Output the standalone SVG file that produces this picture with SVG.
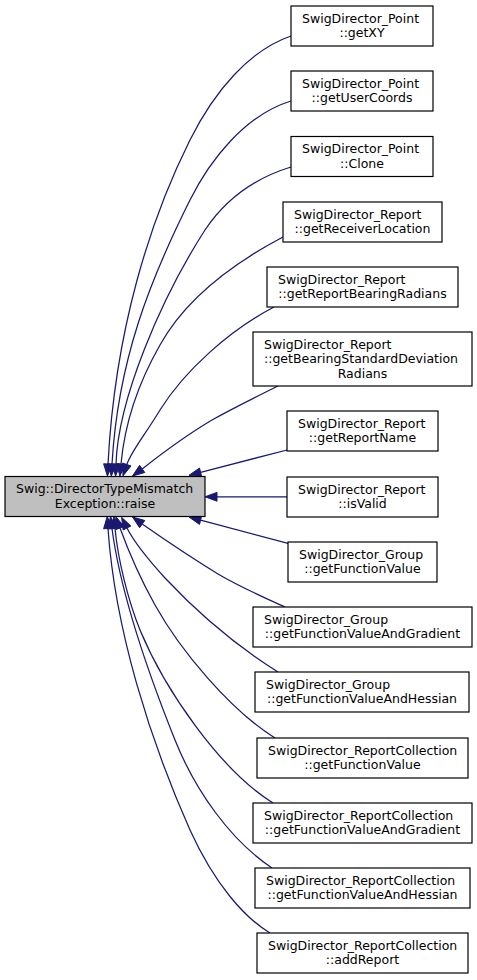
<svg xmlns="http://www.w3.org/2000/svg" width="477" height="980" viewBox="0 0 477 980">
<style>
.n rect{fill:#fff;stroke:#000;stroke-width:1.2}
#main rect{fill:#bfbfbf}
text{font-family:"DejaVu Sans",sans-serif;font-size:12.5px;fill:#000}
.s{text-anchor:start}
.m{text-anchor:middle}
#edges path{fill:none;stroke:#191970;stroke-width:1.25}
#edges polygon{fill:#191970;stroke:#191970;stroke-width:1}
</style>
<rect width="477" height="980" fill="#fff"/>
<g id="edges">
<path d="M291,36 C250,50 215,90 190,140 C150,220 115,330 108,464"/><polygon points="112.4,464.2 107.4,476 103.6,463.8"/>
<path d="M291,101 C245,115 210,160 190,200 C150,280 118,360 112,464"/><polygon points="116.4,464.3 111.3,476 107.6,463.7"/>
<path d="M291,167 C255,178 225,200 205,230 C160,300 118,400 116,464"/><polygon points="120.4,464.1 115.6,476 111.6,463.9"/>
<path d="M283,237 C230,265 185,300 160,345 C140,380 125,420 121,464"/><polygon points="125.4,464.4 119.9,476 116.6,463.6"/>
<path d="M274,307 C230,330 185,370 160,410 C145,435 132,450 126.8,464.5"/><polygon points="131,465.9 123,475.9 122.6,463.1"/>
<path d="M278,386 C258,396 235,407 212,420 C190,433 165,451 142.2,468.9"/><polygon points="144.8,472.5 132.5,476 139.6,465.3"/>
<path d="M287,450 L200.6,472.3"/><polygon points="201.7,476.6 189,475.3 199.5,468"/>
<path d="M287,496.8 L217,496.8"/><polygon points="217,492.4 205,496.8 217,501.2"/>
<path d="M288,543.3 L200.6,520.1"/><polygon points="199.5,524.4 189,517 201.7,515.8"/>
<path d="M285,607 C265,598 240,587 218,574 C190,557 165,540 142.2,524.1"/><polygon points="139.6,527.7 132.5,517 144.8,520.5"/>
<path d="M278,672 C235,645 195,610 165,578 C145,556 133,540 127,528"/><polygon points="123.1,530 121.6,517.3 130.9,526"/>
<path d="M275,738 C230,710 180,650 155,605 C140,578 128,550 120,528"/><polygon points="115.9,529.5 115.9,516.7 124.1,526.5"/>
<path d="M273,803 C220,770 165,690 140,630 C128,600 118,560 115,528.5"/><polygon points="110.6,528.9 113.9,516.6 119.4,528.1"/>
<path d="M272,868 C230,840 195,790 175,740 C145,665 120,590 112,528.5"/><polygon points="107.6,529.1 110.5,516.6 116.4,527.9"/>
<path d="M270,933 C245,918 215,885 190,830 C150,740 115,630 108,528.5"/><polygon points="103.6,528.8 107.2,516.5 112.4,528.2"/>
</g>
<g id="main" class="n"><rect x="5" y="476.5" width="200" height="40"/><text class="s" x="16" y="493">Swig::DirectorTypeMismatch</text><text class="m" x="105" y="507.5">Exception::raise</text></g>
<g id="n1" class="n"><rect x="291" y="6" width="142" height="40"/><text class="s" x="302" y="22.5">SwigDirector_Point</text><text class="m" x="362" y="37.2">::getXY</text></g>
<g id="n2" class="n"><rect x="291" y="71" width="142" height="40"/><text class="s" x="302" y="87.5">SwigDirector_Point</text><text class="m" x="362" y="102.2">::getUserCoords</text></g>
<g id="n3" class="n"><rect x="291" y="136.5" width="142" height="40"/><text class="s" x="302" y="153">SwigDirector_Point</text><text class="m" x="362" y="167.7">::Clone</text></g>
<g id="n4" class="n"><rect x="283" y="202" width="159" height="40"/><text class="s" x="294" y="218.5">SwigDirector_Report</text><text class="m" x="362.5" y="233.2">::getReceiverLocation</text></g>
<g id="n5" class="n"><rect x="267" y="267" width="191" height="40"/><text class="s" x="278" y="283.5">SwigDirector_Report</text><text class="m" x="362.5" y="298.2">::getReportBearingRadians</text></g>
<g id="n6" class="n"><rect x="253" y="332" width="219" height="54"/><text class="s" x="264" y="348.5">SwigDirector_Report</text><text class="s" x="264" y="363">::getBearingStandardDeviation</text><text class="m" x="362.5" y="377.5">Radians</text></g>
<g id="n7" class="n"><rect x="287" y="411" width="151" height="40"/><text class="s" x="298" y="427.5">SwigDirector_Report</text><text class="m" x="362.5" y="442.2">::getReportName</text></g>
<g id="n8" class="n"><rect x="287" y="477" width="151" height="40"/><text class="s" x="298" y="493.5">SwigDirector_Report</text><text class="m" x="362.5" y="508.2">::isValid</text></g>
<g id="n9" class="n"><rect x="288" y="542" width="149" height="40"/><text class="s" x="299" y="558.5">SwigDirector_Group</text><text class="m" x="362.5" y="573.2">::getFunctionValue</text></g>
<g id="n10" class="n"><rect x="253" y="607" width="219" height="40"/><text class="s" x="264" y="623.5">SwigDirector_Group</text><text class="m" x="362.5" y="638.2">::getFunctionValueAndGradient</text></g>
<g id="n11" class="n"><rect x="255" y="672" width="214" height="40"/><text class="s" x="266" y="688.5">SwigDirector_Group</text><text class="m" x="362" y="703.2">::getFunctionValueAndHessian</text></g>
<g id="n12" class="n"><rect x="257" y="738" width="211" height="40"/><text class="s" x="268" y="754.5">SwigDirector_ReportCollection</text><text class="m" x="362.5" y="769.2">::getFunctionValue</text></g>
<g id="n13" class="n"><rect x="253" y="803" width="219" height="40"/><text class="s" x="264" y="819.5">SwigDirector_ReportCollection</text><text class="m" x="362.5" y="834.2">::getFunctionValueAndGradient</text></g>
<g id="n14" class="n"><rect x="255" y="868" width="215" height="40"/><text class="s" x="266" y="884.5">SwigDirector_ReportCollection</text><text class="m" x="362.5" y="899.2">::getFunctionValueAndHessian</text></g>
<g id="n15" class="n"><rect x="257" y="933" width="211" height="40"/><text class="s" x="268" y="949.5">SwigDirector_ReportCollection</text><text class="m" x="362.5" y="964.2">::addReport</text></g>
</svg>
